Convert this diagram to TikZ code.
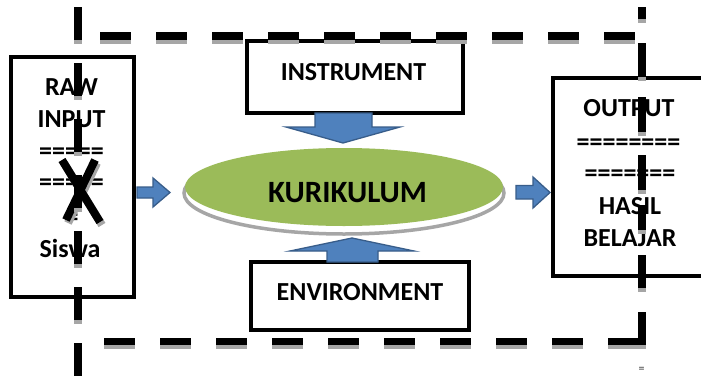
\documentclass[tikz,border=0pt]{standalone}
\usepackage{fontspec}
\setmainfont{Carlito}
\usetikzlibrary{shapes.geometric}
\definecolor{arrowfill}{HTML}{4F81BD}
\definecolor{arrowline}{HTML}{385D8A}
\definecolor{kurgreen}{HTML}{9BBB59}
\definecolor{shadowgray}{HTML}{A6A6A6}
\begin{document}
\begin{tikzpicture}[x=1pt,y=-1pt,
  box/.style={draw=black,line width=4pt,fill=white,inner sep=0pt,rectangle},
  lbl/.style={font=\bfseries\fontsize{26}{30}\selectfont,anchor=base,inner sep=0pt},
  biglbl/.style={font=\bfseries\fontsize{31}{36}\selectfont,anchor=base,inner sep=0pt},
  barrow/.style={fill=arrowfill,draw=arrowline,line width=1.3pt,line join=miter},
  dashblack/.style={line width=7.5pt,black,line cap=butt},
  dashgray/.style={line width=7.5pt,shadowgray,line cap=butt},
]
\clip (0,0) rectangle (701,375);
\fill[white] (0,0) rectangle (701,375);

% boxes
\node[box,minimum width=122.5pt,minimum height=239.5pt] (raw) at (72.5,176.75) {};
\node[box,minimum width=207pt,minimum height=198pt] (out) at (656.5,177) {};
\node[box,minimum width=216.5pt,minimum height=72pt] (instr) at (354.75,77) {};
\node[box,minimum width=218.5pt,minimum height=68pt] (env) at (359.75,296) {};

% texts
\node[lbl] (t1) at (71.5,95) {RAW};
\node[lbl] (t2) at (71.5,127) {INPUT};
\node[lbl] (t3) at (71.5,159) {=====};
\node[lbl] (t4) at (71.5,190) {=====};
\node[lbl] (t5) at (72,225) {=};
\node[lbl] (t6) at (70,257) {Siswa};

\node[lbl] (o1) at (629,116) {OUTPUT};
\node[lbl] (o2) at (628.5,150) {========};
\node[lbl] (o3) at (630,181) {=======};
\node[lbl] (o4) at (630,214) {HASIL};
\node[lbl] (o5) at (630,246) {BELAJAR};

\node[lbl] (ti) at (353.5,80) {INSTRUMENT};
\node[lbl] (te) at (360,300) {ENVIRONMENT};

% X mark
\draw[shadowgray,line width=8pt] (64,163) -- (102,225) (97,163) -- (68,223);
\draw[black,line width=8pt] (62,160) -- (100,222) (95,160) -- (66,220);

% ellipse
\draw[shadowgray,line width=3.5pt] (344,193) ellipse [x radius=160, y radius=41];
\node[ellipse,fill=kurgreen,minimum width=318pt,minimum height=78pt,inner sep=0pt] (kur) at (344,187) {};
\node[biglbl] (tk) at (347.5,202) {KURIKULUM};

% block arrows
\draw[barrow] (315,113) -- (372,113) -- (372,127) -- (400,127) -- (343,143) -- (286,127) -- (315,127) -- cycle;
\draw[barrow] (327,262) -- (327,251) -- (290,251) -- (352,238) -- (414,251) -- (378,251) -- (378,262) -- cycle;
\draw[barrow] (137,187) -- (153,187) -- (153,178) -- (170,192.5) -- (153,207) -- (153,198) -- (137,198) -- cycle;
\draw[barrow] (516,185.5) -- (533,185.5) -- (533,177) -- (550,192.5) -- (533,208) -- (533,199) -- (516,199) -- cycle;

% dashed frame: shadows
\draw[dashgray,dash pattern=on 31pt off 25pt] (100,40) -- (636,40);
\draw[dashgray,dash pattern=on 31pt off 25pt] (104,345.5) -- (642,345.5);
\draw[dashgray,dash pattern=on 33pt off 23pt] (78,11) -- (78,380);
\foreach \a/\b in {7/19,43/77,97/132,155/190,205/230,255/288,312/345}
  \draw[dashgray] (642,\a+4) -- (642,\b+4);
% dashed frame: black
\draw[dashblack,dash pattern=on 31pt off 25pt] (100,36) -- (636,36);
\draw[dashblack,dash pattern=on 31pt off 25pt] (104,341.5) -- (646,341.5);
\draw[dashblack,dash pattern=on 33pt off 23pt] (78,7) -- (78,376);
\foreach \a/\b in {7/19,43/77,97/132,155/190,205/230,255/288,312/345}
  \draw[dashblack] (642,\a) -- (642,\b);

\node[font=\fontsize{12}{12}\selectfont,inner sep=0pt,text=black!80] (eq) at (641.5,370) {=};
\end{tikzpicture}
\end{document}
